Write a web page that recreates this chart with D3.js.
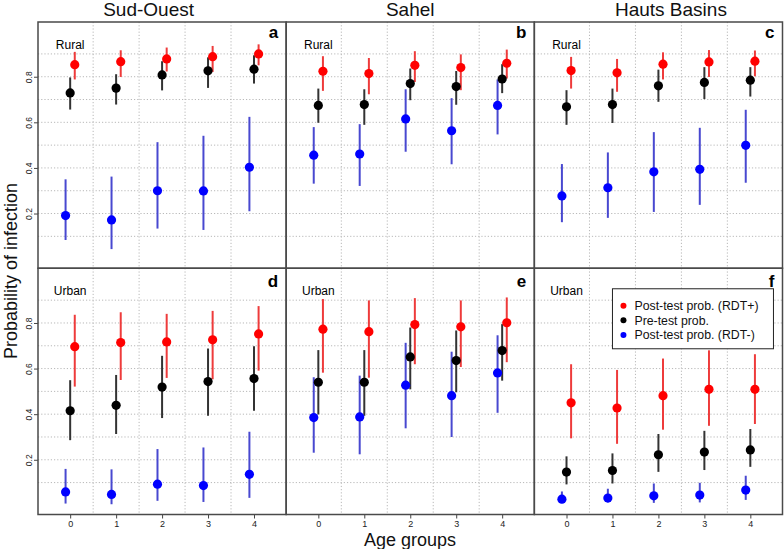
<!DOCTYPE html>
<html>
<head>
<meta charset="utf-8">
<script src="https://cdn.jsdelivr.net/npm/d3@7"></script>
<style>
  html, body { margin: 0; padding: 0; background: #fff; }
  svg { display: block; font-family: "Liberation Sans", Arial, sans-serif; }
</style>
</head>
<body>
<svg id="chart" width="784" height="549"></svg>
<script>
// ---------------- DATA ----------------
const regions = ["Sud-Ouest", "Sahel", "Hauts Basins"];
const settings = ["Rural", "Urban"];
const panelLetters = [["a", "b", "c"], ["d", "e", "f"]];
const ageGroups = [0, 1, 2, 3, 4];
const yTickValues = [0.2, 0.4, 0.6, 0.8];
const yGridValues = [0.1, 0.2, 0.3, 0.4, 0.5, 0.6, 0.7, 0.8, 0.9];
const xGridValues = [0.5, 1.5, 2.5, 3.5];
const seriesNames = ["Post-test prob. (RDT+)", "Pre-test prob.", "Post-test prob. (RDT-)"];
const seriesKeys = ["pos", "pre", "neg"];

// each entry: [estimate, lower, upper] per age group
// Sud-Ouest Rural (a)
const aPos = [[0.853,0.788,0.909],[0.866,0.799,0.916],[0.878,0.823,0.928],[0.888,0.821,0.935],[0.900,0.850,0.942]];
const aPre = [[0.729,0.656,0.797],[0.750,0.678,0.811],[0.808,0.740,0.868],[0.826,0.751,0.885],[0.833,0.770,0.894]];
const aNeg = [[0.191,0.084,0.350],[0.172,0.044,0.362],[0.300,0.134,0.513],[0.299,0.128,0.541],[0.403,0.210,0.624]];
// Sahel Rural (b)
const bPos = [[0.824,0.738,0.890],[0.814,0.723,0.882],[0.850,0.777,0.912],[0.840,0.741,0.898],[0.859,0.792,0.919]];
const bPre = [[0.674,0.598,0.748],[0.678,0.589,0.745],[0.770,0.697,0.836],[0.757,0.677,0.825],[0.790,0.728,0.855]];
const bNeg = [[0.456,0.331,0.579],[0.461,0.321,0.592],[0.615,0.471,0.745],[0.563,0.416,0.706],[0.674,0.547,0.788]];
// Hauts Basins Rural (c)
const cPos = [[0.827,0.748,0.887],[0.817,0.734,0.878],[0.855,0.788,0.907],[0.865,0.799,0.917],[0.868,0.802,0.915]];
const cPre = [[0.668,0.589,0.741],[0.678,0.597,0.748],[0.760,0.690,0.831],[0.775,0.702,0.842],[0.785,0.713,0.842]];
const cNeg = [[0.277,0.162,0.417],[0.313,0.181,0.468],[0.383,0.207,0.557],[0.394,0.238,0.576],[0.499,0.335,0.655]];
// Sud-Ouest Urban (d)
const dPos = [[0.696,0.521,0.836],[0.714,0.550,0.847],[0.717,0.559,0.840],[0.726,0.553,0.853],[0.752,0.591,0.874]];
const dPre = [[0.415,0.286,0.549],[0.439,0.313,0.572],[0.519,0.383,0.656],[0.543,0.393,0.688],[0.556,0.415,0.698]];
const dNeg = [[0.059,0.008,0.160],[0.048,0.005,0.158],[0.093,0.020,0.247],[0.087,0.015,0.254],[0.136,0.033,0.323]];
// Sahel Urban (e)
const ePos = [[0.773,0.582,0.905],[0.762,0.560,0.899],[0.793,0.619,0.909],[0.783,0.607,0.899],[0.801,0.628,0.912]];
const ePre = [[0.540,0.399,0.681],[0.540,0.393,0.681],[0.651,0.509,0.780],[0.635,0.496,0.767],[0.679,0.547,0.795]];
const eNeg = [[0.385,0.231,0.562],[0.388,0.224,0.569],[0.527,0.338,0.713],[0.481,0.300,0.674],[0.581,0.406,0.746]];
// Hauts Basins Urban (f)
const fPos = [[0.450,0.294,0.619],[0.427,0.270,0.594],[0.481,0.332,0.644],[0.509,0.349,0.680],[0.509,0.357,0.663]];
const fPre = [[0.146,0.092,0.215],[0.153,0.096,0.228],[0.222,0.147,0.313],[0.234,0.155,0.327],[0.243,0.169,0.335]];
const fNeg = [[0.027,0.010,0.061],[0.032,0.014,0.073],[0.042,0.011,0.096],[0.045,0.013,0.099],[0.067,0.024,0.130]];

const panelData = [
  [{pos: aPos, pre: aPre, neg: aNeg}, {pos: bPos, pre: bPre, neg: bNeg}, {pos: cPos, pre: cPre, neg: cNeg}],
  [{pos: dPos, pre: dPre, neg: dNeg}, {pos: ePos, pre: ePre, neg: eNeg}, {pos: fPos, pre: fPre, neg: fNeg}]
];

// ---------------- STYLE / LAYOUT ----------------
const pointColors = {pos: "#ff0000", pre: "#000000", neg: "#0000ff"};
const barColors = {pos: "#ee3b3b", pre: "#333333", neg: "#4848d0"};
const xOffsets = {pos: 0.1, pre: 0, neg: -0.1};
const plotLeft = 38, plotRight = 782.5, plotTop = 22, plotBottom = 514.5;
const panelW = (plotRight - plotLeft) / 3;
const panelH = (plotBottom - plotTop) / 2;
const titleShift = [-13.5, 0, 12.5];

const svg = d3.select("#chart");

const x = d3.scaleLinear().domain([-0.7, 4.7]).range([0, panelW]);
const y = d3.scaleLinear().domain([-0.04, 1.04]).range([panelH, 0]);

for (let r = 0; r < 2; r++) {
  for (let c = 0; c < 3; c++) {
    const px = plotLeft + c * panelW;
    const py = plotTop + r * panelH;
    const g = svg.append("g").attr("transform", `translate(${px},${py})`);
    const data = panelData[r][c];

    // grid
    g.selectAll(".hg").data(yGridValues).enter().append("line")
      .attr("x1", 0).attr("x2", panelW)
      .attr("y1", d => y(d)).attr("y2", d => y(d))
      .attr("stroke", "#b8b8b8").attr("stroke-width", 1).attr("stroke-dasharray", "1.2,2");
    g.selectAll(".vg").data(xGridValues).enter().append("line")
      .attr("y1", 0).attr("y2", panelH)
      .attr("x1", d => x(d)).attr("x2", d => x(d))
      .attr("stroke", "#b8b8b8").attr("stroke-width", 1).attr("stroke-dasharray", "1.2,2");

    // setting label
    g.append("text")
      .attr("x", x(0)).attr("y", y(0.94))
      .attr("text-anchor", "middle").attr("dominant-baseline", "central")
      .attr("font-size", 12).attr("fill", "#000")
      .text(settings[r]);

    // panel letter
    g.append("text")
      .attr("x", panelW - 8).attr("y", r === 0 ? 15.5 : 18.5)
      .attr("text-anchor", "end").attr("font-size", 17).attr("font-weight", "bold")
      .text(panelLetters[r][c]);

    // error bars
    ["neg", "pre", "pos"].forEach(k => {
      g.selectAll(".bar-" + k).data(data[k]).enter().append("line")
        .attr("x1", (d, i) => x(ageGroups[i] + xOffsets[k]))
        .attr("x2", (d, i) => x(ageGroups[i] + xOffsets[k]))
        .attr("y1", d => y(d[1])).attr("y2", d => y(d[2]))
        .attr("stroke", barColors[k]).attr("stroke-width", 2);
    });
    // points
    ["neg", "pre", "pos"].forEach(k => {
      g.selectAll(".pt-" + k).data(data[k]).enter().append("circle")
        .attr("cx", (d, i) => x(ageGroups[i] + xOffsets[k]))
        .attr("cy", d => y(d[0]))
        .attr("r", 4.6)
        .attr("fill", pointColors[k]);
    });

    // y axis on left column
    if (c === 0) {
      const ya = g.append("g").call(d3.axisLeft(y).tickValues(yTickValues).tickSize(4).tickFormat(d3.format(".1f")));
      ya.select(".domain").remove();
      ya.selectAll("line").attr("stroke", "#444");
      ya.selectAll("text")
        .attr("x", 0).attr("dy", 0).attr("text-anchor", "middle")
        .attr("transform", "translate(-6,0) rotate(-90)")
        .attr("font-size", 8.5).attr("font-family", "Liberation Sans, Arial, sans-serif").attr("fill", "#222");
    }
    // x axis on bottom row
    if (r === 1) {
      const xa = g.append("g").attr("transform", `translate(0,${panelH})`)
        .call(d3.axisBottom(x).tickValues(ageGroups).tickSize(4).tickPadding(2.5).tickFormat(d3.format("d")));
      xa.select(".domain").remove();
      xa.selectAll("line").attr("stroke", "#444");
      xa.selectAll("text").attr("font-size", 9).attr("font-family", "Liberation Sans, Arial, sans-serif").attr("fill", "#222");
    }

    // frame
    g.append("rect").attr("x", 0).attr("y", 0).attr("width", panelW).attr("height", panelH)
      .attr("fill", "none").attr("stroke", "#4a4a4a").attr("stroke-width", 1.5);

    // region title
    if (r === 0) {
      svg.append("text")
        .attr("x", px + panelW / 2 + titleShift[c]).attr("y", 15.5)
        .attr("text-anchor", "middle").attr("font-size", 19).attr("fill", "#111")
        .text(regions[c]);
    }

    // legend in last panel
    if (r === 1 && c === 2) {
      const lx = x(1), ly = y(0.95);
      const lg = g.append("g").attr("transform", `translate(${lx},${ly})`);
      lg.append("rect").attr("x", 0).attr("y", 0).attr("width", 161).attr("height", 60)
        .attr("fill", "#fff").attr("stroke", "#222").attr("stroke-width", 1);
      seriesKeys.forEach((k, i) => {
        const cy = 17 + i * 14.6;
        lg.append("circle").attr("cx", 11).attr("cy", cy).attr("r", 3).attr("fill", pointColors[k]);
        lg.append("text").attr("x", 22).attr("y", cy).attr("dy", "0.35em")
          .attr("font-size", 12.3).attr("fill", "#111").text(seriesNames[i]);
      });
    }
  }
}

// axis titles
svg.append("text")
  .attr("x", 410).attr("y", 545.5).attr("text-anchor", "middle")
  .attr("font-size", 18).attr("fill", "#111").text("Age groups");
svg.append("text")
  .attr("transform", "translate(16.5,271) rotate(-90)")
  .attr("text-anchor", "middle").attr("font-size", 18).attr("fill", "#111")
  .text("Probability of infection");
</script>
</body>
</html>
